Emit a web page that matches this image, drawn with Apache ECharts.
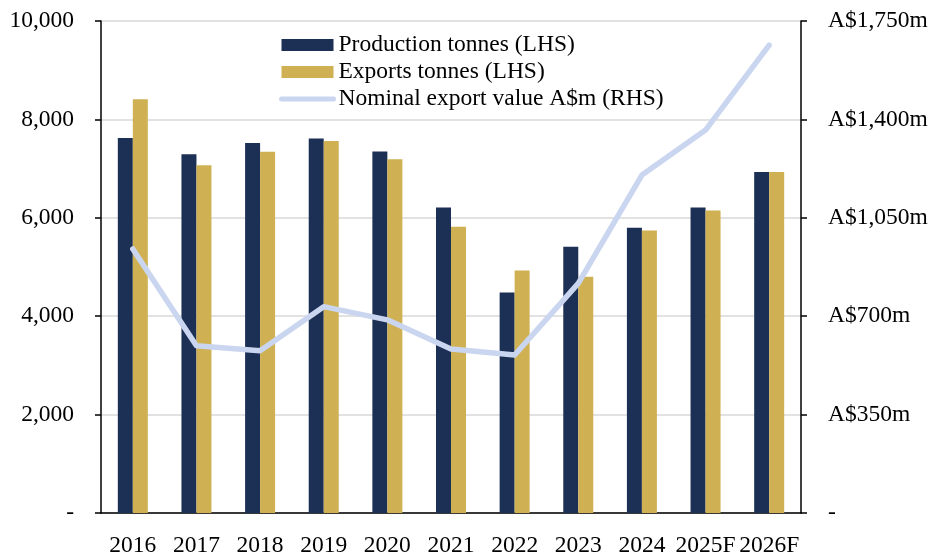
<!DOCTYPE html>
<html>
<head>
<meta charset="utf-8">
<title></title>
</head>
<body style="margin:0">
<div id="container" style="height: 553px; width: 931px"></div>
<script type="text/javascript" src="https://cdn.jsdelivr.net/npm/echarts@6/dist/echarts.min.js"></script>
<script type="text/javascript">
var years = ['2016', '2017', '2018', '2019', '2020', '2021', '2022', '2023', '2024', '2025F', '2026F'];
var production = [7620, 7290, 7520, 7610, 7350, 6210, 4480, 5410, 5800, 6210, 6930];
var exports = [8410, 7070, 7340, 7560, 7190, 5820, 4930, 4800, 5740, 6150, 6930];
var exportValue = [939, 595, 577, 734, 687, 583, 562, 817, 1202, 1362, 1664];

var font = "'Liberation Serif', 'Times New Roman', serif";
var fs = 23.5;
var myChart = echarts.init(document.getElementById('container'));

function fmtLeft(v) {
    return v === 0 ? '-' : v.toLocaleString('en-US');
}
function fmtRight(v) {
    return v === 0 ? '-' : 'A$' + v.toLocaleString('en-US') + 'm';
}

var option = {
    animation: false,
    textStyle: { fontFamily: font, color: '#000' },
    grid: { left: 101, right: 130, top: 21, bottom: 40, outerBoundsMode: 'none', containLabel: false },
    legend: {
        orient: 'vertical',
        left: 274,
        top: 28,
        itemWidth: 52,
        itemHeight: 12,
        itemGap: 3,
        textStyle: { fontFamily: font, fontSize: fs, color: '#000', lineHeight: 24 },
        data: [
            { name: 'Production tonnes (LHS)', icon: 'rect' },
            { name: 'Exports tonnes (LHS)', icon: 'rect' },
            {
                name: 'Nominal export value A$m (RHS)',
                itemStyle: { color: 'transparent', borderWidth: 0, opacity: 0 },
                lineStyle: { width: 5, cap: 'round', color: '#cad5ef' }
            }
        ]
    },
    xAxis: {
        type: 'category',
        data: years,
        axisLine: { lineStyle: { color: '#000', width: 1.5 } },
        axisTick: { length: 6, lineStyle: { color: '#000', width: 1.5 } },
        axisLabel: { fontFamily: font, fontSize: fs, color: '#000', margin: 21, interval: 0 }
    },
    yAxis: [{
        type: 'value',
        min: 0,
        max: 10000,
        interval: 2000,
        axisLine: { show: true, lineStyle: { color: '#000', width: 1.5 } },
        axisTick: { show: true, length: 6, lineStyle: { color: '#000', width: 1.5 } },
        axisLabel: { fontFamily: font, fontSize: fs, color: '#000', margin: 27, formatter: fmtLeft },
        splitLine: { lineStyle: { color: '#d9d9d9', width: 1.5 } }
    }, {
        type: 'value',
        min: 0,
        max: 1750,
        interval: 350,
        position: 'right',
        axisLine: { show: true, lineStyle: { color: '#000', width: 1.5 } },
        axisTick: { show: true, length: 6, lineStyle: { color: '#000', width: 1.5 } },
        axisLabel: { fontFamily: font, fontSize: fs, color: '#000', margin: 27, formatter: fmtRight },
        splitLine: { show: false }
    }],
    series: [{
        name: 'Production tonnes (LHS)',
        type: 'bar',
        data: production,
        barWidth: 15,
        barGap: '0%',
        itemStyle: { color: '#1c2f55' }
    }, {
        name: 'Exports tonnes (LHS)',
        type: 'bar',
        data: exports,
        barWidth: 15,
        barGap: '0%',
        itemStyle: { color: '#cfb053' }
    }, {
        name: 'Nominal export value A$m (RHS)',
        type: 'line',
        yAxisIndex: 1,
        data: exportValue,
        symbol: 'none',
        lineStyle: { color: '#cad5ef', width: 5.5, cap: 'round', join: 'round' },
        itemStyle: { color: '#cad5ef' }
    }]
};
myChart.setOption(option);
</script>
</body>
</html>
